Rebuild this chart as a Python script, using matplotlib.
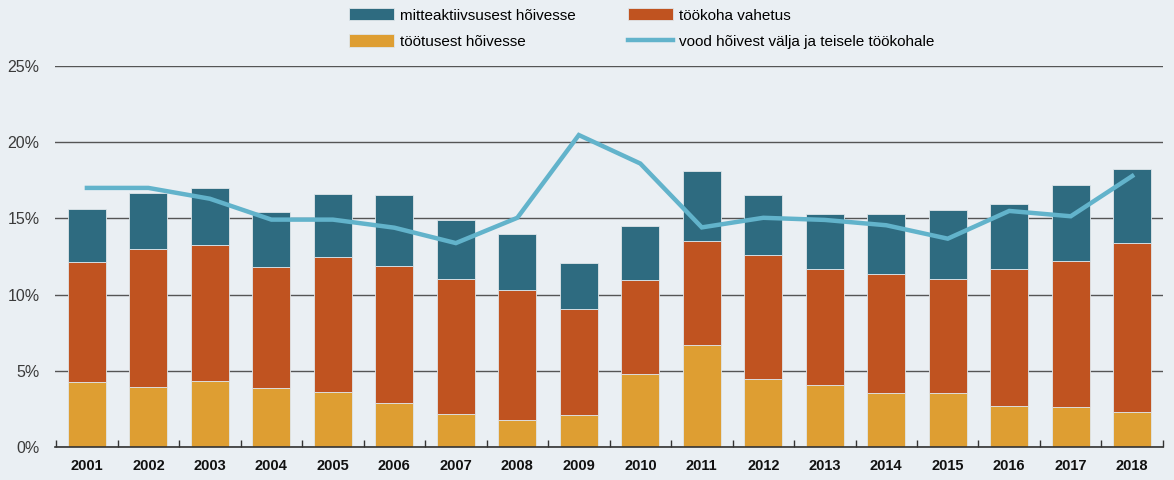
import matplotlib.pyplot as plt
import numpy as np

years = ['2001', '2002', '2003', '2004', '2005', '2006', '2007', '2008', '2009',
         '2010', '2011', '2012', '2013', '2014', '2015', '2016', '2017', '2018']

# Kumulatiivsed tasemed loetud pildilt (%)
tootusest = [4.24, 3.94, 4.35, 3.85, 3.63, 2.89, 2.17, 1.77, 2.08,
             4.79, 6.67, 4.46, 4.07, 3.54, 3.54, 2.69, 2.60, 2.28]
tookoha_top = [12.16, 13.0, 13.23, 11.79, 12.49, 11.88, 11.05, 10.3, 9.06,
               10.93, 13.54, 12.6, 11.66, 11.35, 11.05, 11.66, 12.18, 13.36]
kokku = [15.6, 16.67, 17.0, 15.42, 16.58, 16.56, 14.9, 13.96, 12.07,
         14.48, 18.13, 16.56, 15.31, 15.31, 15.53, 15.94, 17.19, 18.24]
vood = [17.0, 17.0, 16.29, 14.92, 14.92, 14.39, 13.38, 15.04, 20.47,
        18.6, 14.41, 15.04, 14.9, 14.55, 13.67, 15.49, 15.14, 17.78]

tookoha = np.array(tookoha_top) - np.array(tootusest)
mitteakt = np.array(kokku) - np.array(tookoha_top)

BG = '#eaeff3'
C_TEAL = '#2e6b80'
C_ORANGE = '#c05320'
C_YELLOW = '#de9e32'
C_LINE = '#62b3cb'

plt.rcParams['font.family'] = ['Liberation Sans', 'DejaVu Sans']

fig = plt.figure(figsize=(11.74, 4.8), dpi=100, facecolor=BG)
ax = fig.add_axes([0.0468, 0.06875, 0.9438, 0.79375])
ax.set_facecolor(BG)

x = np.arange(len(years))
w = 0.62
edge = dict(edgecolor='#dfe6ea', linewidth=0.6)
b1 = ax.bar(x, tootusest, w, color=C_YELLOW, zorder=2, **edge)
b2 = ax.bar(x, tookoha, w, bottom=tootusest, color=C_ORANGE, zorder=2, **edge)
b3 = ax.bar(x, mitteakt, w, bottom=tookoha_top, color=C_TEAL, zorder=2, **edge)
ln, = ax.plot(x, vood, color=C_LINE, linewidth=3.2, zorder=3,
              solid_joinstyle='miter')

ax.set_xlim(-0.52, len(years) - 0.51)
ax.set_ylim(0, 25)
ax.set_yticks(np.arange(0, 26, 5))
ax.set_yticklabels([f'{v}%' for v in range(0, 26, 5)], fontsize=11.5, color='#3a3a3a')
ax.yaxis.grid(True, color='#555555', linewidth=1.0, zorder=0)
ax.set_axisbelow(True)
ax.tick_params(axis='y', length=0, pad=11)

ax.set_xticks(x)
ax.set_xticklabels(years, fontsize=10.5, fontweight='bold', color='#111111')
ax.set_xticks(np.arange(-0.5, len(years)), minor=True)
ax.tick_params(axis='x', which='major', length=0, pad=9)
ax.tick_params(axis='x', which='minor', direction='in', length=5,
               color='#333333', width=1.0)

for s in ['top', 'right', 'left']:
    ax.spines[s].set_visible(False)
ax.spines['bottom'].set_color('#333333')
ax.spines['bottom'].set_linewidth(1.2)

fig.legend([b3, b1, b2, ln],
           ['mitteaktiivsusest hõivesse', 'töötusest hõivesse',
            'töökoha vahetus', 'vood hõivest välja ja teisele töökohale'],
           ncol=2, loc='center', bbox_to_anchor=(642 / 1174, 1 - 28.5 / 480),
           frameon=False, fontsize=11, handlelength=2.94, handleheight=0.85,
           columnspacing=3.4, labelspacing=0.78, handletextpad=0.4,
           borderpad=0)

plt.savefig('out.png', dpi=100, facecolor=BG)
